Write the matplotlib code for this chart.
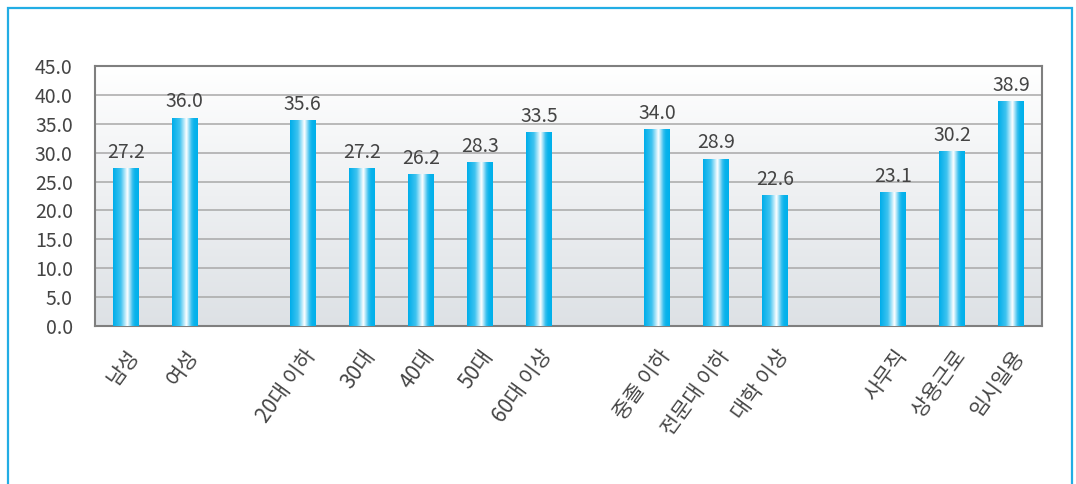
import numpy as np
import matplotlib
matplotlib.use("Agg")
import matplotlib.pyplot as plt
from matplotlib.colors import LinearSegmentedColormap
from matplotlib.patches import Rectangle

plt.rcParams["font.family"] = ["Noto Sans CJK KR", "DejaVu Sans"]

categories = ["남성", "여성",
              "20대 이하", "30대", "40대", "50대", "60대 이상",
              "중졸 이하", "전문대 이하", "대학 이상",
              "사무직", "상용근로", "임시일용"]
values = [27.2, 36.0,
          35.6, 27.2, 26.2, 28.3, 33.5,
          34.0, 28.9, 22.6,
          23.1, 30.2, 38.9]
group_sizes = [2, 5, 3, 3]
y_ticks = np.arange(0, 45.1, 5)

# 그룹 사이에 빈 칸 하나
pos = []
start = 0
for n in group_sizes:
    pos += list(range(start, start + n))
    start += n + 1
xmin, xmax = -0.52, pos[-1] + 0.52

W, H = 1076, 484
fig = plt.figure(figsize=(W / 100, H / 100), dpi=100)
fig.patch.set_facecolor("white")
fig.patches.append(Rectangle((7.5 / W, -0.05), (1072 - 7.5) / W, 1.05 - 8 / H,
                             transform=fig.transFigure, fill=False,
                             edgecolor="#22ade4", linewidth=1.6))

ax = fig.add_axes([95 / W, 1 - 326 / H, (1042 - 95) / W, (326 - 66) / H])

bg = LinearSegmentedColormap.from_list("bg", ["#dde1e5", "#eef0f2", "#ffffff"])
ax.imshow(np.linspace(0, 1, 256).reshape(-1, 1), extent=[xmin, xmax, 0, 45],
          cmap=bg, aspect="auto", origin="lower", zorder=0)

for y in y_ticks[1:-1]:
    ax.axhline(y, color="#a8a8a8", linewidth=1.1, zorder=1)

bar_cmap = LinearSegmentedColormap.from_list(
    "bar", [(0.0, "#00aeea"), (0.3, "#3fc3f0"), (0.56, "#ffffff"),
            (0.75, "#3cc0ee"), (0.85, "#0bb3eb"), (1.0, "#00b0ec")])
grad = np.linspace(0, 1, 64).reshape(1, -1)
w = 0.44
txt = "#444444"
for x, v in zip(pos, values):
    ax.imshow(grad, extent=[x - w / 2, x + w / 2, 0, v], cmap=bar_cmap,
              aspect="auto", zorder=3)
    ax.annotate(f"{v:.1f}", (x, v), xytext=(0, 4), textcoords="offset points",
                ha="center", va="bottom", fontsize=14, color=txt)

ax.set_xlim(xmin, xmax)
ax.set_ylim(0, 45)
ax.set_yticks(y_ticks, [f"{t:.1f}" for t in y_ticks])
ax.set_xticks(pos, categories, rotation=54, ha="right", rotation_mode="anchor")
ax.tick_params(axis="y", length=0, pad=16, labelsize=14, labelcolor=txt)
ax.tick_params(axis="x", length=0, pad=14, labelsize=15, labelcolor=txt)
for s in ax.spines.values():
    s.set_color("#7f7f7f")
    s.set_linewidth(1.5)

fig.savefig("out.png", dpi=100)
